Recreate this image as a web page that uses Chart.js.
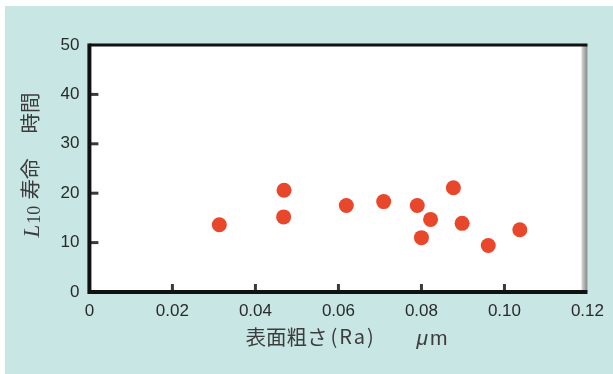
<!DOCTYPE html>
<html>
<head>
<meta charset="utf-8">
<script src="https://cdn.jsdelivr.net/npm/chart.js@4/dist/chart.umd.min.js"></script>
<style>
  html, body { margin: 0; padding: 0; background: #ffffff; }
  #myChart { display: block; }
</style>
</head>
<body>
<canvas id="myChart" width="613" height="374"></canvas>
<script>
// surface roughness Ra (um) vs L10 life (hours)
const roughness = [0.0313, 0.0469, 0.0468, 0.0619, 0.0709, 0.0790, 0.0822, 0.0800, 0.0877, 0.0898, 0.0961, 0.1037];
const lifeHours = [13.6, 20.6, 15.2, 17.5, 18.3, 17.5, 14.7, 11.0, 21.1, 13.9, 9.4, 12.6];

const xTickValues = [0, 0.02, 0.04, 0.06, 0.08, 0.10, 0.12];
const xTickLabels = ['0', '0.02', '0.04', '0.06', '0.08', '0.10', '0.12'];
const yTickValues = [0, 10, 20, 30, 40, 50];

const teal = '#c8e7e4';
const dotColor = '#e9472b';
const textColor = '#2a2a2a';

const framePlugin = {
  id: 'frame',
  beforeDraw(chart) {
    let ctx = chart.ctx;
    let a = chart.chartArea;
    ctx.save();
    ctx.fillStyle = '#ffffff';
    ctx.fillRect(0, 0, chart.width, chart.height);
    ctx.fillStyle = teal;
    ctx.fillRect(5, 6, chart.width - 5, chart.height - 6);
    ctx.fillStyle = '#ffffff';
    ctx.fillRect(a.left, a.top, a.right - a.left, a.bottom - a.top);
    ctx.restore();
  },
  beforeDatasetsDraw(chart) {
    let ctx = chart.ctx;
    let a = chart.chartArea;
    let xs = chart.scales.x;
    let ys = chart.scales.y;
    ctx.save();
    // inner tick marks
    ctx.strokeStyle = '#3a3a3a';
    ctx.lineWidth = 3;
    xTickValues.slice(1, -1).forEach(v => {
      let px = xs.getPixelForValue(v);
      ctx.beginPath();
      ctx.moveTo(px, a.bottom);
      ctx.lineTo(px, a.bottom - 8);
      ctx.stroke();
    });
    yTickValues.slice(1, -1).forEach(v => {
      let py = ys.getPixelForValue(v);
      ctx.beginPath();
      ctx.moveTo(a.left, py);
      ctx.lineTo(a.left + 9, py);
      ctx.stroke();
    });
    // right border (grey)
    let grad = ctx.createLinearGradient(a.right - 6, 0, a.right, 0);
    grad.addColorStop(0, '#d8d8d8');
    grad.addColorStop(1, '#858585');
    ctx.fillStyle = grad;
    ctx.fillRect(a.right - 6, a.top, 6, a.bottom - a.top);
    // black borders
    ctx.strokeStyle = '#111111';
    ctx.lineWidth = 3;
    ctx.beginPath();
    ctx.moveTo(a.left, a.top);
    ctx.lineTo(a.right, a.top);
    ctx.stroke();
    ctx.lineWidth = 4;
    ctx.beginPath();
    ctx.moveTo(a.left, a.top - 1.5);
    ctx.lineTo(a.left, a.bottom);
    ctx.lineTo(a.right, a.bottom);
    ctx.stroke();
    ctx.restore();
  },
  afterDraw(chart) {
    let ctx = chart.ctx;
    let a = chart.chartArea;
    ctx.save();
    ctx.fillStyle = '#3c3c3c';
    ctx.textBaseline = 'alphabetic';

    // x title: 表面粗さ(Ra)   μm
    let cjk = '20.5px "Noto Sans CJK JP"';
    let x0 = a.left + 156;
    let by = 345;
    ctx.font = cjk;
    ctx.fillText('表面粗さ', x0, by);
    ctx.font = '20px "Noto Sans CJK JP"';
    ctx.letterSpacing = '2px';
    ctx.fillText('(Ra)', x0 + 85, by - 1);
    ctx.letterSpacing = '0px';
    ctx.font = 'italic 21px "Liberation Sans"';
    let wMu = ctx.measureText('μ').width;
    ctx.fillText('μ', x0 + 171, by);
    ctx.font = '21px "Liberation Sans"';
    ctx.fillText('m', x0 + 173 + wMu, by);

    // y title, rotated: L10寿命　時間
    ctx.translate(30.5, (a.top + a.bottom) / 2 - 3);
    ctx.rotate(-Math.PI / 2);
    let sx = -72;
    ctx.font = 'italic 23px "Liberation Serif"';
    let wL = ctx.measureText('L').width;
    ctx.fillText('L', sx, 8);
    ctx.font = '18px "Liberation Serif"';
    ctx.fillText('10', sx + wL + 1, 9.5);
    ctx.font = cjk;
    ctx.fillText('寿命', sx + 38, 7.5);
    ctx.fillText('時間', sx + 104, 7.5);
    ctx.restore();
  }
};

function lifeChart() {
  let ctx = document.querySelector('#myChart').getContext('2d');
  let points = roughness.map((r, i) => ({x: r, y: lifeHours[i]}));
  new Chart(ctx, {
    type: 'scatter',
    data: {
      datasets: [{
        data: points,
        backgroundColor: dotColor,
        borderColor: dotColor,
        borderWidth: 0,
        pointRadius: 7.5,
        pointHoverRadius: 7.5
      }]
    },
    options: {
      responsive: false,
      animation: false,
      events: [],
      layout: {padding: {top: 45, right: 23.5, bottom: 0, left: 0}},
      plugins: {legend: {display: false}, tooltip: {enabled: false}},
      scales: {
        x: {
          type: 'linear',
          min: 0,
          max: 0.12,
          afterBuildTicks: scale => { scale.ticks = xTickValues.map(v => ({value: v})); },
          afterFit: scale => { scale.height = 82; },
          grid: {display: false, drawTicks: false},
          border: {display: false},
          ticks: {
            autoSkip: false,
            maxRotation: 0,
            padding: 9,
            color: textColor,
            font: {family: 'Liberation Sans', size: 17},
            callback: (v, i) => xTickLabels[i]
          }
        },
        y: {
          type: 'linear',
          min: 0,
          max: 50,
          afterBuildTicks: scale => { scale.ticks = yTickValues.map(v => ({value: v})); },
          afterFit: scale => { scale.width = 89.4; },
          grid: {display: false, drawTicks: false},
          border: {display: false},
          ticks: {
            padding: 10,
            color: textColor,
            font: {family: 'Liberation Sans', size: 17}
          }
        }
      }
    },
    plugins: [framePlugin]
  });
}
lifeChart();
</script>
</body>
</html>
